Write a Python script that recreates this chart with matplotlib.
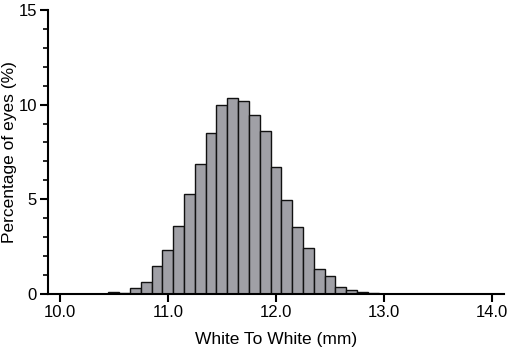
import matplotlib
matplotlib.use("Agg")
import matplotlib.pyplot as plt
from matplotlib.ticker import MultipleLocator

plt.rcParams['font.family'] = ['Liberation Sans', 'DejaVu Sans']

bin_centers = [10.5, 10.6, 10.7, 10.8, 10.9, 11.0, 11.1, 11.2, 11.3, 11.4, 11.5,
               11.6, 11.7, 11.8, 11.9, 12.0, 12.1, 12.2, 12.3, 12.4, 12.5,
               12.6, 12.7, 12.8, 12.9]
percentages = [0.10, 0.07, 0.32, 0.63, 1.49, 2.32, 3.61, 5.30, 6.86, 8.51, 9.96,
               10.33, 10.19, 9.47, 8.58, 6.72, 4.95, 3.56, 2.42, 1.30, 0.96,
               0.37, 0.19, 0.11, 0.04]
x_ticks = [10.0, 11.0, 12.0, 13.0, 14.0]
x_tick_labels = ["10.0", "11.0", "12.0", "13.0", "14.0"]
y_ticks = [0, 5, 10, 15]

fig = plt.figure(figsize=(5.1, 3.55), dpi=100)
ax = fig.add_axes([0.094, 0.172, 0.894, 0.800])

ax.bar(bin_centers, percentages, width=0.1, color='#a0a0a6',
       edgecolor='#111111', linewidth=1.0, zorder=2)

ax.set_xlim(9.89, 14.11)
ax.set_ylim(0, 15)
ax.set_xticks(x_ticks)
ax.set_xticklabels(x_tick_labels)
ax.set_yticks(y_ticks)
ax.yaxis.set_minor_locator(MultipleLocator(1))

for s in ['top', 'right']:
    ax.spines[s].set_visible(False)
for s in ['left', 'bottom']:
    ax.spines[s].set_linewidth(1.5)

ax.tick_params(axis='both', which='major', direction='out', length=6, width=1.5,
               labelsize=12, pad=2)
ax.tick_params(axis='y', which='minor', direction='out', length=3.5, width=1.2)

ax.set_xlabel("White To White (mm)", fontsize=12.5)
ax.set_ylabel("Percentage of eyes (%)", fontsize=12.5)
ax.xaxis.set_label_coords(0.5, -0.135)
ax.yaxis.set_label_coords(-0.068, 0.5)

fig.savefig("out.png", dpi=100)
